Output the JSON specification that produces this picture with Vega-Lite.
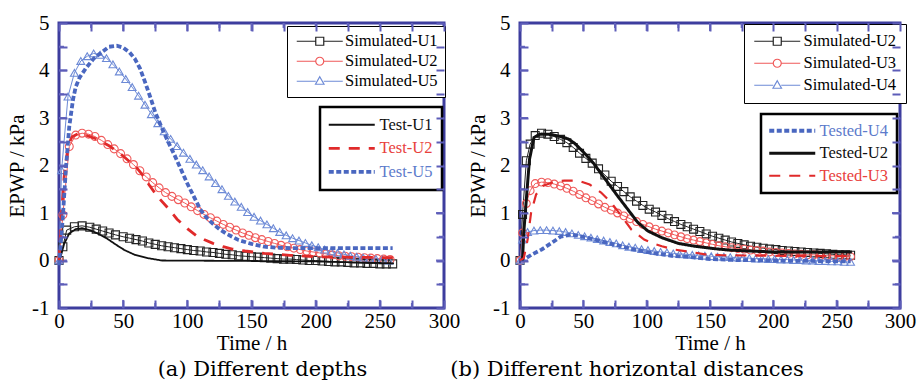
{
"$schema":"https://vega.github.io/schema/vega-lite/v6.json",
"padding":{"left":5,"top":10,"right":5,"bottom":2},
"background":"white",
"bounds":"flush",
"spacing":76,
"config":{
"font":"Liberation Serif",
"view":{"stroke":"#3d3d9e","strokeWidth":3},
"axis":{"domain":false,"grid":false,"ticks":true,"labelFont":"Liberation Serif","labelFontSize":21,"labelColor":"black","titleFont":"Liberation Serif","titleFontSize":21,"titleFontWeight":"normal","titleColor":"black","tickColor":"#5d5db8","tickWidth":2,"tickOpacity":1,"labelFlush":false,"labelOverlap":false},
"legend":{"labelFont":"Liberation Serif","labelFontSize":16.5,"labelLimit":300}
},
"datasets":{
"xt":[{"t":25},{"t":50},{"t":75},{"t":100},{"t":125},{"t":150},{"t":175},{"t":200},{"t":225},{"t":250},{"t":275}],
"yt":[{"v":-0.5},{"v":0},{"v":0.5},{"v":1},{"v":1.5},{"v":2},{"v":2.5},{"v":3},{"v":3.5},{"v":4},{"v":4.5}],
"simA":[
{"s":"Simulated-U1","t":0,"v":0},{"s":"Simulated-U1","t":3,"v":0.29},{"s":"Simulated-U1","t":6,"v":0.64},{"s":"Simulated-U1","t":12,"v":0.71},{"s":"Simulated-U1","t":18,"v":0.73},{"s":"Simulated-U1","t":24,"v":0.7},{"s":"Simulated-U1","t":29,"v":0.66},{"s":"Simulated-U1","t":34,"v":0.62},{"s":"Simulated-U1","t":39,"v":0.58},{"s":"Simulated-U1","t":44,"v":0.54},{"s":"Simulated-U1","t":50,"v":0.5},{"s":"Simulated-U1","t":55,"v":0.47},{"s":"Simulated-U1","t":60,"v":0.44},{"s":"Simulated-U1","t":65,"v":0.41},{"s":"Simulated-U1","t":70,"v":0.37},{"s":"Simulated-U1","t":75,"v":0.34},{"s":"Simulated-U1","t":80,"v":0.31},{"s":"Simulated-U1","t":85,"v":0.29},{"s":"Simulated-U1","t":90,"v":0.27},{"s":"Simulated-U1","t":95,"v":0.25},{"s":"Simulated-U1","t":100,"v":0.23},{"s":"Simulated-U1","t":105,"v":0.21},{"s":"Simulated-U1","t":110,"v":0.2},{"s":"Simulated-U1","t":115,"v":0.18},{"s":"Simulated-U1","t":120,"v":0.17},{"s":"Simulated-U1","t":125,"v":0.15},{"s":"Simulated-U1","t":130,"v":0.13},{"s":"Simulated-U1","t":135,"v":0.12},{"s":"Simulated-U1","t":140,"v":0.1},{"s":"Simulated-U1","t":145,"v":0.09},{"s":"Simulated-U1","t":150,"v":0.08},{"s":"Simulated-U1","t":155,"v":0.07},{"s":"Simulated-U1","t":160,"v":0.06},{"s":"Simulated-U1","t":165,"v":0.05},{"s":"Simulated-U1","t":170,"v":0.04},{"s":"Simulated-U1","t":175,"v":0.03},{"s":"Simulated-U1","t":180,"v":0.03},{"s":"Simulated-U1","t":185,"v":0.02},{"s":"Simulated-U1","t":190,"v":0.01},{"s":"Simulated-U1","t":195,"v":0},{"s":"Simulated-U1","t":200,"v":0},{"s":"Simulated-U1","t":205,"v":-0.01},{"s":"Simulated-U1","t":210,"v":-0.02},{"s":"Simulated-U1","t":215,"v":-0.03},{"s":"Simulated-U1","t":220,"v":-0.03},{"s":"Simulated-U1","t":225,"v":-0.04},{"s":"Simulated-U1","t":230,"v":-0.05},{"s":"Simulated-U1","t":235,"v":-0.05},{"s":"Simulated-U1","t":240,"v":-0.06},{"s":"Simulated-U1","t":245,"v":-0.06},{"s":"Simulated-U1","t":250,"v":-0.07},{"s":"Simulated-U1","t":255,"v":-0.07},{"s":"Simulated-U1","t":260,"v":-0.07},
{"s":"Simulated-U2","t":0,"v":0},{"s":"Simulated-U2","t":3,"v":0.96},{"s":"Simulated-U2","t":8,"v":2.4},{"s":"Simulated-U2","t":13,"v":2.64},{"s":"Simulated-U2","t":18,"v":2.68},{"s":"Simulated-U2","t":23,"v":2.66},{"s":"Simulated-U2","t":28,"v":2.61},{"s":"Simulated-U2","t":33,"v":2.53},{"s":"Simulated-U2","t":38,"v":2.44},{"s":"Simulated-U2","t":43,"v":2.35},{"s":"Simulated-U2","t":48,"v":2.25},{"s":"Simulated-U2","t":53,"v":2.14},{"s":"Simulated-U2","t":58,"v":2.02},{"s":"Simulated-U2","t":63,"v":1.89},{"s":"Simulated-U2","t":68,"v":1.76},{"s":"Simulated-U2","t":73,"v":1.64},{"s":"Simulated-U2","t":78,"v":1.53},{"s":"Simulated-U2","t":83,"v":1.43},{"s":"Simulated-U2","t":88,"v":1.35},{"s":"Simulated-U2","t":93,"v":1.28},{"s":"Simulated-U2","t":98,"v":1.21},{"s":"Simulated-U2","t":103,"v":1.13},{"s":"Simulated-U2","t":108,"v":1.05},{"s":"Simulated-U2","t":113,"v":0.97},{"s":"Simulated-U2","t":118,"v":0.9},{"s":"Simulated-U2","t":123,"v":0.83},{"s":"Simulated-U2","t":128,"v":0.76},{"s":"Simulated-U2","t":133,"v":0.7},{"s":"Simulated-U2","t":138,"v":0.64},{"s":"Simulated-U2","t":143,"v":0.58},{"s":"Simulated-U2","t":148,"v":0.53},{"s":"Simulated-U2","t":153,"v":0.48},{"s":"Simulated-U2","t":158,"v":0.44},{"s":"Simulated-U2","t":163,"v":0.4},{"s":"Simulated-U2","t":168,"v":0.36},{"s":"Simulated-U2","t":173,"v":0.32},{"s":"Simulated-U2","t":178,"v":0.29},{"s":"Simulated-U2","t":183,"v":0.26},{"s":"Simulated-U2","t":188,"v":0.23},{"s":"Simulated-U2","t":193,"v":0.2},{"s":"Simulated-U2","t":198,"v":0.18},{"s":"Simulated-U2","t":203,"v":0.16},{"s":"Simulated-U2","t":208,"v":0.14},{"s":"Simulated-U2","t":213,"v":0.12},{"s":"Simulated-U2","t":218,"v":0.1},{"s":"Simulated-U2","t":223,"v":0.09},{"s":"Simulated-U2","t":228,"v":0.08},{"s":"Simulated-U2","t":233,"v":0.07},{"s":"Simulated-U2","t":238,"v":0.06},{"s":"Simulated-U2","t":243,"v":0.05},{"s":"Simulated-U2","t":248,"v":0.04},{"s":"Simulated-U2","t":253,"v":0.03},{"s":"Simulated-U2","t":258,"v":0.02},
{"s":"Simulated-U5","t":0,"v":0},{"s":"Simulated-U5","t":2,"v":1.9},{"s":"Simulated-U5","t":7,"v":3.45},{"s":"Simulated-U5","t":12,"v":3.95},{"s":"Simulated-U5","t":17,"v":4.2},{"s":"Simulated-U5","t":22,"v":4.3},{"s":"Simulated-U5","t":27,"v":4.36},{"s":"Simulated-U5","t":32,"v":4.33},{"s":"Simulated-U5","t":37,"v":4.26},{"s":"Simulated-U5","t":42,"v":4.13},{"s":"Simulated-U5","t":47,"v":3.98},{"s":"Simulated-U5","t":52,"v":3.82},{"s":"Simulated-U5","t":57,"v":3.65},{"s":"Simulated-U5","t":62,"v":3.47},{"s":"Simulated-U5","t":67,"v":3.28},{"s":"Simulated-U5","t":72,"v":3.08},{"s":"Simulated-U5","t":77,"v":2.89},{"s":"Simulated-U5","t":82,"v":2.72},{"s":"Simulated-U5","t":87,"v":2.56},{"s":"Simulated-U5","t":92,"v":2.41},{"s":"Simulated-U5","t":97,"v":2.27},{"s":"Simulated-U5","t":102,"v":2.14},{"s":"Simulated-U5","t":107,"v":2.02},{"s":"Simulated-U5","t":112,"v":1.9},{"s":"Simulated-U5","t":117,"v":1.77},{"s":"Simulated-U5","t":122,"v":1.63},{"s":"Simulated-U5","t":127,"v":1.5},{"s":"Simulated-U5","t":132,"v":1.36},{"s":"Simulated-U5","t":137,"v":1.24},{"s":"Simulated-U5","t":142,"v":1.13},{"s":"Simulated-U5","t":147,"v":1.02},{"s":"Simulated-U5","t":152,"v":0.92},{"s":"Simulated-U5","t":157,"v":0.84},{"s":"Simulated-U5","t":162,"v":0.76},{"s":"Simulated-U5","t":167,"v":0.68},{"s":"Simulated-U5","t":172,"v":0.6},{"s":"Simulated-U5","t":177,"v":0.53},{"s":"Simulated-U5","t":182,"v":0.47},{"s":"Simulated-U5","t":187,"v":0.42},{"s":"Simulated-U5","t":192,"v":0.37},{"s":"Simulated-U5","t":197,"v":0.32},{"s":"Simulated-U5","t":202,"v":0.28},{"s":"Simulated-U5","t":207,"v":0.23},{"s":"Simulated-U5","t":212,"v":0.19},{"s":"Simulated-U5","t":217,"v":0.16},{"s":"Simulated-U5","t":222,"v":0.13},{"s":"Simulated-U5","t":227,"v":0.1},{"s":"Simulated-U5","t":232,"v":0.08},{"s":"Simulated-U5","t":237,"v":0.06},{"s":"Simulated-U5","t":242,"v":0.04},{"s":"Simulated-U5","t":247,"v":0.03},{"s":"Simulated-U5","t":252,"v":0.02},{"s":"Simulated-U5","t":257,"v":0}
],
"testA":[
{"s":"Test-U1","t":0,"v":0},{"s":"Test-U1","t":2,"v":0.15},{"s":"Test-U1","t":4,"v":0.35},{"s":"Test-U1","t":8,"v":0.57},{"s":"Test-U1","t":13,"v":0.66},{"s":"Test-U1","t":18,"v":0.68},{"s":"Test-U1","t":24,"v":0.64},{"s":"Test-U1","t":30,"v":0.57},{"s":"Test-U1","t":37,"v":0.47},{"s":"Test-U1","t":44,"v":0.34},{"s":"Test-U1","t":51,"v":0.22},{"s":"Test-U1","t":59,"v":0.12},{"s":"Test-U1","t":69,"v":0.05},{"s":"Test-U1","t":80,"v":0},{"s":"Test-U1","t":150,"v":-0.01},{"s":"Test-U1","t":200,"v":-0.02},{"s":"Test-U1","t":261,"v":-0.06},
{"s":"Test-U2","t":0,"v":0},{"s":"Test-U2","t":2,"v":1},{"s":"Test-U2","t":4,"v":1.76},{"s":"Test-U2","t":7,"v":2.4},{"s":"Test-U2","t":10,"v":2.6},{"s":"Test-U2","t":15,"v":2.67},{"s":"Test-U2","t":20,"v":2.65},{"s":"Test-U2","t":30,"v":2.55},{"s":"Test-U2","t":40,"v":2.4},{"s":"Test-U2","t":50,"v":2.2},{"s":"Test-U2","t":55,"v":2.08},{"s":"Test-U2","t":61,"v":1.94},{"s":"Test-U2","t":66,"v":1.77},{"s":"Test-U2","t":70,"v":1.6},{"s":"Test-U2","t":77,"v":1.34},{"s":"Test-U2","t":85,"v":1.1},{"s":"Test-U2","t":92,"v":0.87},{"s":"Test-U2","t":100,"v":0.67},{"s":"Test-U2","t":107,"v":0.52},{"s":"Test-U2","t":113,"v":0.44},{"s":"Test-U2","t":120,"v":0.36},{"s":"Test-U2","t":128,"v":0.29},{"s":"Test-U2","t":135,"v":0.24},{"s":"Test-U2","t":145,"v":0.2},{"s":"Test-U2","t":160,"v":0.15},{"s":"Test-U2","t":180,"v":0.11},{"s":"Test-U2","t":200,"v":0.08},{"s":"Test-U2","t":220,"v":0.07},{"s":"Test-U2","t":261,"v":0.06},
{"s":"Test-U5","t":0,"v":-0.1},{"s":"Test-U5","t":3,"v":0.92},{"s":"Test-U5","t":5.5,"v":1.98},{"s":"Test-U5","t":8,"v":2.82},{"s":"Test-U5","t":11,"v":3.4},{"s":"Test-U5","t":13,"v":3.65},{"s":"Test-U5","t":16,"v":3.85},{"s":"Test-U5","t":21,"v":4.05},{"s":"Test-U5","t":27,"v":4.25},{"s":"Test-U5","t":34,"v":4.4},{"s":"Test-U5","t":39,"v":4.5},{"s":"Test-U5","t":45,"v":4.52},{"s":"Test-U5","t":50,"v":4.48},{"s":"Test-U5","t":55,"v":4.38},{"s":"Test-U5","t":59,"v":4.25},{"s":"Test-U5","t":63,"v":4.05},{"s":"Test-U5","t":67,"v":3.76},{"s":"Test-U5","t":71,"v":3.45},{"s":"Test-U5","t":75,"v":3.12},{"s":"Test-U5","t":80,"v":2.8},{"s":"Test-U5","t":85,"v":2.5},{"s":"Test-U5","t":90,"v":2.22},{"s":"Test-U5","t":95,"v":1.92},{"s":"Test-U5","t":100,"v":1.62},{"s":"Test-U5","t":105,"v":1.35},{"s":"Test-U5","t":110,"v":1.08},{"s":"Test-U5","t":115,"v":0.9},{"s":"Test-U5","t":120,"v":0.77},{"s":"Test-U5","t":125,"v":0.66},{"s":"Test-U5","t":130,"v":0.57},{"s":"Test-U5","t":135,"v":0.5},{"s":"Test-U5","t":140,"v":0.43},{"s":"Test-U5","t":150,"v":0.35},{"s":"Test-U5","t":160,"v":0.29},{"s":"Test-U5","t":170,"v":0.27},{"s":"Test-U5","t":180,"v":0.26},{"s":"Test-U5","t":260,"v":0.26}
],
"simB":[
{"s":"Simulated-U2","t":0,"v":0},{"s":"Simulated-U2","t":2,"v":0.97},{"s":"Simulated-U2","t":5,"v":2.1},{"s":"Simulated-U2","t":8,"v":2.45},{"s":"Simulated-U2","t":12,"v":2.63},{"s":"Simulated-U2","t":17,"v":2.68},{"s":"Simulated-U2","t":22,"v":2.66},{"s":"Simulated-U2","t":27,"v":2.61},{"s":"Simulated-U2","t":32,"v":2.55},{"s":"Simulated-U2","t":37,"v":2.48},{"s":"Simulated-U2","t":42,"v":2.38},{"s":"Simulated-U2","t":47,"v":2.26},{"s":"Simulated-U2","t":52,"v":2.15},{"s":"Simulated-U2","t":57,"v":2.05},{"s":"Simulated-U2","t":62,"v":1.93},{"s":"Simulated-U2","t":67,"v":1.8},{"s":"Simulated-U2","t":72,"v":1.67},{"s":"Simulated-U2","t":77,"v":1.56},{"s":"Simulated-U2","t":82,"v":1.45},{"s":"Simulated-U2","t":87,"v":1.34},{"s":"Simulated-U2","t":92,"v":1.25},{"s":"Simulated-U2","t":97,"v":1.16},{"s":"Simulated-U2","t":102,"v":1.08},{"s":"Simulated-U2","t":107,"v":1.02},{"s":"Simulated-U2","t":112,"v":0.95},{"s":"Simulated-U2","t":117,"v":0.88},{"s":"Simulated-U2","t":122,"v":0.82},{"s":"Simulated-U2","t":127,"v":0.76},{"s":"Simulated-U2","t":132,"v":0.71},{"s":"Simulated-U2","t":137,"v":0.66},{"s":"Simulated-U2","t":142,"v":0.61},{"s":"Simulated-U2","t":147,"v":0.56},{"s":"Simulated-U2","t":152,"v":0.51},{"s":"Simulated-U2","t":157,"v":0.47},{"s":"Simulated-U2","t":162,"v":0.43},{"s":"Simulated-U2","t":167,"v":0.39},{"s":"Simulated-U2","t":172,"v":0.36},{"s":"Simulated-U2","t":177,"v":0.33},{"s":"Simulated-U2","t":182,"v":0.3},{"s":"Simulated-U2","t":187,"v":0.28},{"s":"Simulated-U2","t":192,"v":0.26},{"s":"Simulated-U2","t":197,"v":0.24},{"s":"Simulated-U2","t":202,"v":0.23},{"s":"Simulated-U2","t":207,"v":0.21},{"s":"Simulated-U2","t":212,"v":0.2},{"s":"Simulated-U2","t":217,"v":0.19},{"s":"Simulated-U2","t":222,"v":0.18},{"s":"Simulated-U2","t":227,"v":0.17},{"s":"Simulated-U2","t":232,"v":0.16},{"s":"Simulated-U2","t":237,"v":0.15},{"s":"Simulated-U2","t":242,"v":0.14},{"s":"Simulated-U2","t":247,"v":0.13},{"s":"Simulated-U2","t":252,"v":0.12},{"s":"Simulated-U2","t":257,"v":0.12},{"s":"Simulated-U2","t":261,"v":0.11},
{"s":"Simulated-U3","t":0,"v":0},{"s":"Simulated-U3","t":2,"v":0.58},{"s":"Simulated-U3","t":5,"v":1.2},{"s":"Simulated-U3","t":8,"v":1.47},{"s":"Simulated-U3","t":12,"v":1.62},{"s":"Simulated-U3","t":17,"v":1.65},{"s":"Simulated-U3","t":22,"v":1.64},{"s":"Simulated-U3","t":27,"v":1.61},{"s":"Simulated-U3","t":32,"v":1.57},{"s":"Simulated-U3","t":37,"v":1.52},{"s":"Simulated-U3","t":42,"v":1.46},{"s":"Simulated-U3","t":47,"v":1.39},{"s":"Simulated-U3","t":52,"v":1.32},{"s":"Simulated-U3","t":57,"v":1.26},{"s":"Simulated-U3","t":62,"v":1.19},{"s":"Simulated-U3","t":67,"v":1.12},{"s":"Simulated-U3","t":72,"v":1.06},{"s":"Simulated-U3","t":77,"v":1},{"s":"Simulated-U3","t":82,"v":0.94},{"s":"Simulated-U3","t":87,"v":0.88},{"s":"Simulated-U3","t":92,"v":0.82},{"s":"Simulated-U3","t":97,"v":0.76},{"s":"Simulated-U3","t":102,"v":0.71},{"s":"Simulated-U3","t":107,"v":0.66},{"s":"Simulated-U3","t":112,"v":0.62},{"s":"Simulated-U3","t":117,"v":0.58},{"s":"Simulated-U3","t":122,"v":0.54},{"s":"Simulated-U3","t":127,"v":0.5},{"s":"Simulated-U3","t":132,"v":0.46},{"s":"Simulated-U3","t":137,"v":0.43},{"s":"Simulated-U3","t":142,"v":0.4},{"s":"Simulated-U3","t":147,"v":0.37},{"s":"Simulated-U3","t":152,"v":0.34},{"s":"Simulated-U3","t":157,"v":0.31},{"s":"Simulated-U3","t":162,"v":0.29},{"s":"Simulated-U3","t":167,"v":0.27},{"s":"Simulated-U3","t":172,"v":0.25},{"s":"Simulated-U3","t":177,"v":0.24},{"s":"Simulated-U3","t":182,"v":0.22},{"s":"Simulated-U3","t":187,"v":0.21},{"s":"Simulated-U3","t":192,"v":0.2},{"s":"Simulated-U3","t":197,"v":0.18},{"s":"Simulated-U3","t":202,"v":0.17},{"s":"Simulated-U3","t":207,"v":0.16},{"s":"Simulated-U3","t":212,"v":0.15},{"s":"Simulated-U3","t":217,"v":0.14},{"s":"Simulated-U3","t":222,"v":0.13},{"s":"Simulated-U3","t":227,"v":0.12},{"s":"Simulated-U3","t":232,"v":0.12},{"s":"Simulated-U3","t":237,"v":0.11},{"s":"Simulated-U3","t":242,"v":0.1},{"s":"Simulated-U3","t":247,"v":0.1},{"s":"Simulated-U3","t":252,"v":0.09},{"s":"Simulated-U3","t":257,"v":0.09},{"s":"Simulated-U3","t":261,"v":0.08},
{"s":"Simulated-U4","t":0,"v":0},{"s":"Simulated-U4","t":2,"v":0.44},{"s":"Simulated-U4","t":6,"v":0.6},{"s":"Simulated-U4","t":11,"v":0.63},{"s":"Simulated-U4","t":16,"v":0.64},{"s":"Simulated-U4","t":21,"v":0.64},{"s":"Simulated-U4","t":26,"v":0.63},{"s":"Simulated-U4","t":31,"v":0.62},{"s":"Simulated-U4","t":36,"v":0.6},{"s":"Simulated-U4","t":41,"v":0.57},{"s":"Simulated-U4","t":46,"v":0.54},{"s":"Simulated-U4","t":51,"v":0.51},{"s":"Simulated-U4","t":56,"v":0.48},{"s":"Simulated-U4","t":61,"v":0.45},{"s":"Simulated-U4","t":66,"v":0.42},{"s":"Simulated-U4","t":71,"v":0.39},{"s":"Simulated-U4","t":76,"v":0.36},{"s":"Simulated-U4","t":81,"v":0.32},{"s":"Simulated-U4","t":86,"v":0.29},{"s":"Simulated-U4","t":91,"v":0.27},{"s":"Simulated-U4","t":96,"v":0.24},{"s":"Simulated-U4","t":101,"v":0.22},{"s":"Simulated-U4","t":106,"v":0.2},{"s":"Simulated-U4","t":111,"v":0.18},{"s":"Simulated-U4","t":116,"v":0.17},{"s":"Simulated-U4","t":121,"v":0.15},{"s":"Simulated-U4","t":126,"v":0.14},{"s":"Simulated-U4","t":131,"v":0.13},{"s":"Simulated-U4","t":136,"v":0.12},{"s":"Simulated-U4","t":141,"v":0.11},{"s":"Simulated-U4","t":146,"v":0.1},{"s":"Simulated-U4","t":151,"v":0.09},{"s":"Simulated-U4","t":156,"v":0.08},{"s":"Simulated-U4","t":161,"v":0.08},{"s":"Simulated-U4","t":166,"v":0.07},{"s":"Simulated-U4","t":171,"v":0.06},{"s":"Simulated-U4","t":176,"v":0.06},{"s":"Simulated-U4","t":181,"v":0.05},{"s":"Simulated-U4","t":186,"v":0.04},{"s":"Simulated-U4","t":191,"v":0.04},{"s":"Simulated-U4","t":196,"v":0.03},{"s":"Simulated-U4","t":201,"v":0.03},{"s":"Simulated-U4","t":206,"v":0.02},{"s":"Simulated-U4","t":211,"v":0.02},{"s":"Simulated-U4","t":216,"v":0.01},{"s":"Simulated-U4","t":221,"v":0.01},{"s":"Simulated-U4","t":226,"v":0},{"s":"Simulated-U4","t":231,"v":0},{"s":"Simulated-U4","t":236,"v":-0.01},{"s":"Simulated-U4","t":241,"v":-0.01},{"s":"Simulated-U4","t":246,"v":-0.02},{"s":"Simulated-U4","t":251,"v":-0.02},{"s":"Simulated-U4","t":256,"v":-0.03},{"s":"Simulated-U4","t":261,"v":-0.03}
],
"testB":[
{"s":"Tested-U4","t":0,"v":0},{"s":"Tested-U4","t":3,"v":0.02},{"s":"Tested-U4","t":9,"v":0.12},{"s":"Tested-U4","t":17,"v":0.23},{"s":"Tested-U4","t":25,"v":0.37},{"s":"Tested-U4","t":32,"v":0.5},{"s":"Tested-U4","t":40,"v":0.55},{"s":"Tested-U4","t":48,"v":0.51},{"s":"Tested-U4","t":59,"v":0.44},{"s":"Tested-U4","t":69,"v":0.37},{"s":"Tested-U4","t":80,"v":0.3},{"s":"Tested-U4","t":90,"v":0.23},{"s":"Tested-U4","t":104,"v":0.16},{"s":"Tested-U4","t":120,"v":0.1},{"s":"Tested-U4","t":135,"v":0.07},{"s":"Tested-U4","t":150,"v":0.03},{"s":"Tested-U4","t":170,"v":0.01},{"s":"Tested-U4","t":200,"v":0},{"s":"Tested-U4","t":230,"v":-0.01},{"s":"Tested-U4","t":261,"v":-0.02},
{"s":"Tested-U2","t":0,"v":0},{"s":"Tested-U2","t":2,"v":0.02},{"s":"Tested-U2","t":3,"v":0.6},{"s":"Tested-U2","t":5,"v":1.29},{"s":"Tested-U2","t":7.5,"v":2.13},{"s":"Tested-U2","t":11,"v":2.59},{"s":"Tested-U2","t":16,"v":2.66},{"s":"Tested-U2","t":22,"v":2.66},{"s":"Tested-U2","t":27,"v":2.64},{"s":"Tested-U2","t":33,"v":2.6},{"s":"Tested-U2","t":38,"v":2.56},{"s":"Tested-U2","t":43,"v":2.47},{"s":"Tested-U2","t":48,"v":2.34},{"s":"Tested-U2","t":53,"v":2.2},{"s":"Tested-U2","t":58,"v":2.05},{"s":"Tested-U2","t":64,"v":1.83},{"s":"Tested-U2","t":69,"v":1.65},{"s":"Tested-U2","t":77,"v":1.36},{"s":"Tested-U2","t":85,"v":1.08},{"s":"Tested-U2","t":93,"v":0.8},{"s":"Tested-U2","t":101,"v":0.62},{"s":"Tested-U2","t":112,"v":0.48},{"s":"Tested-U2","t":125,"v":0.36},{"s":"Tested-U2","t":138,"v":0.3},{"s":"Tested-U2","t":153,"v":0.25},{"s":"Tested-U2","t":165,"v":0.22},{"s":"Tested-U2","t":180,"v":0.2},{"s":"Tested-U2","t":200,"v":0.18},{"s":"Tested-U2","t":262,"v":0.18},
{"s":"Tested-U3","t":0,"v":0},{"s":"Tested-U3","t":3,"v":0.05},{"s":"Tested-U3","t":6,"v":0.44},{"s":"Tested-U3","t":8.7,"v":1},{"s":"Tested-U3","t":12.7,"v":1.39},{"s":"Tested-U3","t":18,"v":1.57},{"s":"Tested-U3","t":27,"v":1.66},{"s":"Tested-U3","t":35,"v":1.68},{"s":"Tested-U3","t":46,"v":1.68},{"s":"Tested-U3","t":55,"v":1.6},{"s":"Tested-U3","t":64,"v":1.43},{"s":"Tested-U3","t":72,"v":1.22},{"s":"Tested-U3","t":80,"v":0.94},{"s":"Tested-U3","t":88,"v":0.65},{"s":"Tested-U3","t":98,"v":0.44},{"s":"Tested-U3","t":106,"v":0.35},{"s":"Tested-U3","t":112,"v":0.3},{"s":"Tested-U3","t":122,"v":0.23},{"s":"Tested-U3","t":135,"v":0.18},{"s":"Tested-U3","t":146,"v":0.13},{"s":"Tested-U3","t":160,"v":0.11},{"s":"Tested-U3","t":200,"v":0.1},{"s":"Tested-U3","t":261,"v":0.09}
]
},
"hconcat":[
{
"width":385,"height":285,
"title":{"text":"(a) Different depths","orient":"bottom","anchor":"middle","font":"DejaVu Serif","fontSize":21,"fontWeight":"normal","color":"black","dx":11,"offset":6},
"resolve":{"scale":{"color":"independent","shape":"independent","strokeDash":"independent","strokeWidth":"independent"},"axis":{"x":"independent","y":"independent"}},
"layer":[
{"data":{"name":"xt"},"transform":[{"filter":"datum.t % 50 === 0"}],"mark":{"type":"rule","color":"#6a6ac0","strokeWidth":2},"encoding":{"x":{"field":"t","type":"quantitative","scale":{"domain":[0,300],"nice":false},"axis":null},"y":{"datum":-1,"type":"quantitative","scale":{"domain":[-1,5],"nice":false},"axis":null},"y2":{"datum":-0.83}}},
{"data":{"name":"xt"},"transform":[{"filter":"datum.t % 50 !== 0"}],"mark":{"type":"rule","color":"#6a6ac0","strokeWidth":2},"encoding":{"x":{"field":"t","type":"quantitative","scale":{"domain":[0,300],"nice":false},"axis":null},"y":{"datum":-1,"type":"quantitative","scale":{"domain":[-1,5],"nice":false},"axis":null},"y2":{"datum":-0.895}}},
{"data":{"name":"xt"},"transform":[{"filter":"datum.t % 50 === 0"}],"mark":{"type":"rule","color":"#6a6ac0","strokeWidth":2},"encoding":{"x":{"field":"t","type":"quantitative","scale":{"domain":[0,300],"nice":false},"axis":null},"y":{"datum":5,"type":"quantitative","scale":{"domain":[-1,5],"nice":false},"axis":null},"y2":{"datum":4.83}}},
{"data":{"name":"xt"},"transform":[{"filter":"datum.t % 50 !== 0"}],"mark":{"type":"rule","color":"#6a6ac0","strokeWidth":2},"encoding":{"x":{"field":"t","type":"quantitative","scale":{"domain":[0,300],"nice":false},"axis":null},"y":{"datum":5,"type":"quantitative","scale":{"domain":[-1,5],"nice":false},"axis":null},"y2":{"datum":4.895}}},
{"data":{"name":"yt"},"transform":[{"filter":"datum.v % 1 === 0"}],"mark":{"type":"rule","color":"#6a6ac0","strokeWidth":2},"encoding":{"y":{"field":"v","type":"quantitative","scale":{"domain":[-1,5],"nice":false},"axis":null},"x":{"datum":0,"type":"quantitative","scale":{"domain":[0,300],"nice":false},"axis":null},"x2":{"datum":6.2}}},
{"data":{"name":"yt"},"transform":[{"filter":"datum.v % 1 !== 0"}],"mark":{"type":"rule","color":"#6a6ac0","strokeWidth":2},"encoding":{"y":{"field":"v","type":"quantitative","scale":{"domain":[-1,5],"nice":false},"axis":null},"x":{"datum":0,"type":"quantitative","scale":{"domain":[0,300],"nice":false},"axis":null},"x2":{"datum":3.9}}},
{"data":{"name":"yt"},"transform":[{"filter":"datum.v % 1 === 0"}],"mark":{"type":"rule","color":"#6a6ac0","strokeWidth":2},"encoding":{"y":{"field":"v","type":"quantitative","scale":{"domain":[-1,5],"nice":false},"axis":null},"x":{"datum":300,"type":"quantitative","scale":{"domain":[0,300],"nice":false},"axis":null},"x2":{"datum":293.8}}},
{"data":{"name":"yt"},"transform":[{"filter":"datum.v % 1 !== 0"}],"mark":{"type":"rule","color":"#6a6ac0","strokeWidth":2},"encoding":{"y":{"field":"v","type":"quantitative","scale":{"domain":[-1,5],"nice":false},"axis":null},"x":{"datum":300,"type":"quantitative","scale":{"domain":[0,300],"nice":false},"axis":null},"x2":{"datum":296.1}}},
{"data":{"name":"simA"},"mark":{"type":"line","strokeWidth":1},
"encoding":{
"x":{"field":"t","type":"quantitative","scale":{"domain":[0,300],"nice":false},"axis":{"orient":"bottom","values":[0,25,50,75,100,125,150,175,200,225,250,275,300],"labelExpr":"datum.value % 50 === 0 ? '' + datum.value : ''","ticks":true,"tickSize":-8,"labelPadding":10,"title":"Time / h","titlePadding":1,"labelFont":"Liberation Serif","labelFontSize":21,"labelColor":"black","titleFont":"Liberation Serif","titleFontSize":21,"titleFontWeight":"normal","titleColor":"black","tickColor":"#5d5db8","tickWidth":2,"tickOpacity":1,"domain":false,"grid":false,"labelFlush":false,"labelOverlap":false,"zindex":1}},
"y":{"field":"v","type":"quantitative","scale":{"domain":[-1,5],"nice":false},"axis":{"orient":"left","values":[-1,-0.5,0,0.5,1,1.5,2,2.5,3,3.5,4,4.5,5],"labelExpr":"datum.value % 1 === 0 ? '' + datum.value : ''","ticks":true,"tickSize":-8,"labelPadding":18,"title":"EPWP / kPa","titlePadding":4,"labelFont":"Liberation Serif","labelFontSize":21,"labelColor":"black","titleFont":"Liberation Serif","titleFontSize":21,"titleFontWeight":"normal","titleColor":"black","tickColor":"#5d5db8","tickWidth":2,"tickOpacity":1,"domain":false,"grid":false,"labelFlush":false,"labelOverlap":false,"zindex":1}},
"color":{"field":"s","type":"nominal","scale":{"domain":["Simulated-U1","Simulated-U2","Simulated-U5"],"range":["#222222","#f05a5a","#6d8ad6"]},"legend":null}
}},
{"data":{"name":"simA"},"mark":{"type":"point","filled":false,"strokeWidth":1.1,"opacity":1},
"encoding":{
"x":{"field":"t","type":"quantitative","scale":{"domain":[0,300],"nice":false},"axis":null},
"y":{"field":"v","type":"quantitative","scale":{"domain":[-1,5],"nice":false},"axis":null},
"color":{"field":"s","type":"nominal","scale":{"domain":["Simulated-U1","Simulated-U2","Simulated-U5"],"range":["#222222","#f05a5a","#6d8ad6"]},"legend":null},
"shape":{"field":"s","type":"nominal","scale":{"domain":["Simulated-U1","Simulated-U2","Simulated-U5"],"range":["square","circle","triangle-up"]},"legend":null},
"size":{"field":"s","type":"nominal","scale":{"domain":["Simulated-U1","Simulated-U2","Simulated-U5"],"range":[64,60,80]},"legend":null}
}},
{"data":{"name":"testA"},"mark":{"type":"line"},
"encoding":{
"x":{"field":"t","type":"quantitative","scale":{"domain":[0,300],"nice":false},"axis":null},
"y":{"field":"v","type":"quantitative","scale":{"domain":[-1,5],"nice":false},"axis":null},
"color":{"field":"s","type":"nominal","scale":{"domain":["Test-U1","Test-U2","Test-U5"],"range":["#111111","#e02a2a","#4a67c0"]},
"legend":{"title":null,"orient":"none","legendX":261,"legendY":84,"padding":9.5,"rowPadding":6.6,"strokeColor":"black","fillColor":"white","symbolType":"M-4.6,0H4.6","symbolSize":100,"symbolOffset":14,"labelOffset":19.5,"labelFont":"Liberation Serif","labelFontSize":16.5,
"encode":{"labels":{"update":{"fill":{"signal":"datum.value === 'Test-U1' ? '#111111' : datum.value === 'Test-U2' ? '#e8413c' : '#5d7bcb'"}}},"legend":{"update":{"strokeWidth":{"value":2.5}}}}}},
"strokeDash":{"field":"s","type":"nominal","scale":{"domain":["Test-U1","Test-U2","Test-U5"],"range":[[1,0],[11,9],[5,2.5]]},
"legend":{"title":null,"orient":"none","legendX":261,"legendY":84,"padding":9.5,"rowPadding":6.6,"strokeColor":"black","fillColor":"white","symbolType":"M-4.6,0H4.6","symbolSize":100,"symbolOffset":14,"labelOffset":19.5,"labelFont":"Liberation Serif","labelFontSize":16.5}},
"strokeWidth":{"field":"s","type":"nominal","scale":{"domain":["Test-U1","Test-U2","Test-U5"],"range":[1.8,3.8]},
"legend":{"title":null,"orient":"none","legendX":261,"legendY":84,"padding":9.5,"rowPadding":6.6,"strokeColor":"black","fillColor":"white","symbolType":"M-4.6,0H4.6","symbolSize":100,"symbolOffset":14,"labelOffset":19.5,"labelFont":"Liberation Serif","labelFontSize":16.5}}
}},
{"data":{"name":"simA"},"mark":{"type":"point","filled":false,"opacity":0},
"encoding":{
"x":{"field":"t","type":"quantitative","scale":{"domain":[0,300],"nice":false},"axis":{"orient":"top","values":[0,25,50,75,100,125,150,175,200,225,250,275,300],"labels":false,"title":null,"ticks":true,"tickSize":-8,"tickColor":"#5d5db8","tickWidth":2,"tickOpacity":1,"domain":false,"grid":false,"zindex":1}},
"y":{"field":"v","type":"quantitative","scale":{"domain":[-1,5],"nice":false},"axis":{"orient":"right","values":[-1,-0.5,0,0.5,1,1.5,2,2.5,3,3.5,4,4.5,5],"labels":false,"title":null,"ticks":true,"tickSize":-8,"tickColor":"#5d5db8","tickWidth":2,"tickOpacity":1,"domain":false,"grid":false,"zindex":1}},
"color":{"field":"s","type":"nominal","scale":{"domain":["Simulated-U1","Simulated-U2","Simulated-U5"],"range":["#222222","#f05a5a","#6d8ad6"]},
"legend":{"title":null,"orient":"none","legendX":228,"legendY":3,"padding":7,"rowPadding":3,"strokeColor":"black","fillColor":"white","symbolSize":100,"symbolStrokeWidth":1.2,"symbolOpacity":1,"symbolOffset":17.5,"labelOffset":17,"labelFont":"Liberation Serif","labelFontSize":16.5,
"encode":{"labels":{"update":{"fill":{"signal":"datum.value === 'Simulated-U1' ? '#111111' : datum.value === 'Simulated-U2' ? '#e8413c' : '#5d7bcb'"}}},"legend":{"update":{"strokeWidth":{"value":2.5}}}}}},
"shape":{"field":"s","type":"nominal","scale":{"domain":["Simulated-U1","Simulated-U2","Simulated-U5"],"range":["M-4.6,0H-0.8M0.8,0H4.6M-0.8,-0.8H0.8V0.8H-0.8Z","M-4.6,0H-0.8M0.8,0H4.6M0.8,0A0.8,0.8 0 1,1 -0.8,0A0.8,0.8 0 1,1 0.8,0Z","M-4.6,0H-0.8M0.8,0H4.6M0,-0.9L0.85,0.6H-0.85Z"]},
"legend":{"title":null,"orient":"none","legendX":228,"legendY":3,"padding":7,"rowPadding":3,"strokeColor":"black","fillColor":"white","symbolSize":100,"symbolStrokeWidth":1.2,"symbolOpacity":1,"symbolOffset":17.5,"labelOffset":17,"labelFont":"Liberation Serif","labelFontSize":16.5}}
}}
]
},
{
"width":380,"height":285,
"title":{"text":"(b) Different horizontal distances","orient":"bottom","anchor":"middle","font":"DejaVu Serif","fontSize":21,"fontWeight":"normal","color":"black","dx":-83,"offset":6},
"resolve":{"scale":{"color":"independent","shape":"independent","strokeDash":"independent","strokeWidth":"independent"},"axis":{"x":"independent","y":"independent"}},
"layer":[
{"data":{"name":"xt"},"transform":[{"filter":"datum.t % 50 === 0"}],"mark":{"type":"rule","color":"#6a6ac0","strokeWidth":2},"encoding":{"x":{"field":"t","type":"quantitative","scale":{"domain":[0,300],"nice":false},"axis":null},"y":{"datum":-1,"type":"quantitative","scale":{"domain":[-1,5],"nice":false},"axis":null},"y2":{"datum":-0.83}}},
{"data":{"name":"xt"},"transform":[{"filter":"datum.t % 50 !== 0"}],"mark":{"type":"rule","color":"#6a6ac0","strokeWidth":2},"encoding":{"x":{"field":"t","type":"quantitative","scale":{"domain":[0,300],"nice":false},"axis":null},"y":{"datum":-1,"type":"quantitative","scale":{"domain":[-1,5],"nice":false},"axis":null},"y2":{"datum":-0.895}}},
{"data":{"name":"xt"},"transform":[{"filter":"datum.t % 50 === 0"}],"mark":{"type":"rule","color":"#6a6ac0","strokeWidth":2},"encoding":{"x":{"field":"t","type":"quantitative","scale":{"domain":[0,300],"nice":false},"axis":null},"y":{"datum":5,"type":"quantitative","scale":{"domain":[-1,5],"nice":false},"axis":null},"y2":{"datum":4.83}}},
{"data":{"name":"xt"},"transform":[{"filter":"datum.t % 50 !== 0"}],"mark":{"type":"rule","color":"#6a6ac0","strokeWidth":2},"encoding":{"x":{"field":"t","type":"quantitative","scale":{"domain":[0,300],"nice":false},"axis":null},"y":{"datum":5,"type":"quantitative","scale":{"domain":[-1,5],"nice":false},"axis":null},"y2":{"datum":4.895}}},
{"data":{"name":"yt"},"transform":[{"filter":"datum.v % 1 === 0"}],"mark":{"type":"rule","color":"#6a6ac0","strokeWidth":2},"encoding":{"y":{"field":"v","type":"quantitative","scale":{"domain":[-1,5],"nice":false},"axis":null},"x":{"datum":0,"type":"quantitative","scale":{"domain":[0,300],"nice":false},"axis":null},"x2":{"datum":6.3}}},
{"data":{"name":"yt"},"transform":[{"filter":"datum.v % 1 !== 0"}],"mark":{"type":"rule","color":"#6a6ac0","strokeWidth":2},"encoding":{"y":{"field":"v","type":"quantitative","scale":{"domain":[-1,5],"nice":false},"axis":null},"x":{"datum":0,"type":"quantitative","scale":{"domain":[0,300],"nice":false},"axis":null},"x2":{"datum":3.95}}},
{"data":{"name":"yt"},"transform":[{"filter":"datum.v % 1 === 0"}],"mark":{"type":"rule","color":"#6a6ac0","strokeWidth":2},"encoding":{"y":{"field":"v","type":"quantitative","scale":{"domain":[-1,5],"nice":false},"axis":null},"x":{"datum":300,"type":"quantitative","scale":{"domain":[0,300],"nice":false},"axis":null},"x2":{"datum":293.7}}},
{"data":{"name":"yt"},"transform":[{"filter":"datum.v % 1 !== 0"}],"mark":{"type":"rule","color":"#6a6ac0","strokeWidth":2},"encoding":{"y":{"field":"v","type":"quantitative","scale":{"domain":[-1,5],"nice":false},"axis":null},"x":{"datum":300,"type":"quantitative","scale":{"domain":[0,300],"nice":false},"axis":null},"x2":{"datum":296.05}}},
{"data":{"name":"simB"},"mark":{"type":"line","strokeWidth":1},
"encoding":{
"x":{"field":"t","type":"quantitative","scale":{"domain":[0,300],"nice":false},"axis":{"orient":"bottom","values":[0,25,50,75,100,125,150,175,200,225,250,275,300],"labelExpr":"datum.value % 50 === 0 ? '' + datum.value : ''","ticks":true,"tickSize":-8,"labelPadding":10,"title":"Time / h","titlePadding":1,"labelFont":"Liberation Serif","labelFontSize":21,"labelColor":"black","titleFont":"Liberation Serif","titleFontSize":21,"titleFontWeight":"normal","titleColor":"black","tickColor":"#5d5db8","tickWidth":2,"tickOpacity":1,"domain":false,"grid":false,"labelFlush":false,"labelOverlap":false,"zindex":1}},
"y":{"field":"v","type":"quantitative","scale":{"domain":[-1,5],"nice":false},"axis":{"orient":"left","values":[-1,-0.5,0,0.5,1,1.5,2,2.5,3,3.5,4,4.5,5],"labelExpr":"datum.value % 1 === 0 ? '' + datum.value : ''","ticks":true,"tickSize":-8,"labelPadding":18,"title":"EPWP / kPa","titlePadding":4,"labelFont":"Liberation Serif","labelFontSize":21,"labelColor":"black","titleFont":"Liberation Serif","titleFontSize":21,"titleFontWeight":"normal","titleColor":"black","tickColor":"#5d5db8","tickWidth":2,"tickOpacity":1,"domain":false,"grid":false,"labelFlush":false,"labelOverlap":false,"zindex":1}},
"color":{"field":"s","type":"nominal","scale":{"domain":["Simulated-U2","Simulated-U3","Simulated-U4"],"range":["#222222","#f05a5a","#6d8ad6"]},"legend":null}
}},
{"data":{"name":"simB"},"mark":{"type":"point","filled":false,"strokeWidth":1.1,"opacity":1},
"encoding":{
"x":{"field":"t","type":"quantitative","scale":{"domain":[0,300],"nice":false},"axis":null},
"y":{"field":"v","type":"quantitative","scale":{"domain":[-1,5],"nice":false},"axis":null},
"color":{"field":"s","type":"nominal","scale":{"domain":["Simulated-U2","Simulated-U3","Simulated-U4"],"range":["#222222","#f05a5a","#6d8ad6"]},"legend":null},
"shape":{"field":"s","type":"nominal","scale":{"domain":["Simulated-U2","Simulated-U3","Simulated-U4"],"range":["square","circle","triangle-up"]},"legend":null},
"size":{"field":"s","type":"nominal","scale":{"domain":["Simulated-U2","Simulated-U3","Simulated-U4"],"range":[64,60,80]},"legend":null}
}},
{"data":{"name":"testB"},"mark":{"type":"line"},
"encoding":{
"x":{"field":"t","type":"quantitative","scale":{"domain":[0,300],"nice":false},"axis":null},
"y":{"field":"v","type":"quantitative","scale":{"domain":[-1,5],"nice":false},"axis":null},
"color":{"field":"s","type":"nominal","scale":{"domain":["Tested-U4","Tested-U2","Tested-U3"],"range":["#4a67c0","#111111","#e02a2a"]},
"legend":{"title":null,"orient":"none","legendX":241,"legendY":91,"padding":8.5,"rowPadding":5.5,"strokeColor":"black","fillColor":"white","symbolType":"M-4.6,0H4.6","symbolSize":100,"symbolOffset":14.5,"labelOffset":19,"labelFont":"Liberation Serif","labelFontSize":16.5,
"encode":{"labels":{"update":{"fill":{"signal":"datum.value === 'Tested-U2' ? '#111111' : datum.value === 'Tested-U3' ? '#e8413c' : '#5d7bcb'"}}},"legend":{"update":{"strokeWidth":{"value":2.5}}}}}},
"strokeDash":{"field":"s","type":"nominal","scale":{"domain":["Tested-U4","Tested-U2","Tested-U3"],"range":[[5,2.5],[1,0],[11,9]]},
"legend":{"title":null,"orient":"none","legendX":241,"legendY":91,"padding":8.5,"rowPadding":5.5,"strokeColor":"black","fillColor":"white","symbolType":"M-4.6,0H4.6","symbolSize":100,"symbolOffset":14.5,"labelOffset":19,"labelFont":"Liberation Serif","labelFontSize":16.5}},
"strokeWidth":{"field":"s","type":"nominal","scale":{"domain":["Tested-U4","Tested-U2","Tested-U3"],"range":[3.8,2.2]},
"legend":{"title":null,"orient":"none","legendX":241,"legendY":91,"padding":8.5,"rowPadding":5.5,"strokeColor":"black","fillColor":"white","symbolType":"M-4.6,0H4.6","symbolSize":100,"symbolOffset":14.5,"labelOffset":19,"labelFont":"Liberation Serif","labelFontSize":16.5}}
}},
{"data":{"name":"simB"},"mark":{"type":"point","filled":false,"opacity":0},
"encoding":{
"x":{"field":"t","type":"quantitative","scale":{"domain":[0,300],"nice":false},"axis":{"orient":"top","values":[0,25,50,75,100,125,150,175,200,225,250,275,300],"labels":false,"title":null,"ticks":true,"tickSize":-8,"tickColor":"#5d5db8","tickWidth":2,"tickOpacity":1,"domain":false,"grid":false,"zindex":1}},
"y":{"field":"v","type":"quantitative","scale":{"domain":[-1,5],"nice":false},"axis":{"orient":"right","values":[-1,-0.5,0,0.5,1,1.5,2,2.5,3,3.5,4,4.5,5],"labels":false,"title":null,"ticks":true,"tickSize":-8,"tickColor":"#5d5db8","tickWidth":2,"tickOpacity":1,"domain":false,"grid":false,"zindex":1}},
"color":{"field":"s","type":"nominal","scale":{"domain":["Simulated-U2","Simulated-U3","Simulated-U4"],"range":["#222222","#f05a5a","#6d8ad6"]},
"legend":{"title":null,"orient":"none","legendX":224,"legendY":1,"padding":9,"rowPadding":5,"strokeColor":"black","fillColor":"white","symbolSize":100,"symbolStrokeWidth":1.2,"symbolOpacity":1,"symbolOffset":16,"labelOffset":18,"labelFont":"Liberation Serif","labelFontSize":16.5,
"encode":{"labels":{"update":{"fill":{"signal":"datum.value === 'Simulated-U2' ? '#111111' : datum.value === 'Simulated-U3' ? '#e8413c' : '#5d7bcb'"}}},"legend":{"update":{"strokeWidth":{"value":2.5}}}}}},
"shape":{"field":"s","type":"nominal","scale":{"domain":["Simulated-U2","Simulated-U3","Simulated-U4"],"range":["M-4.6,0H-0.8M0.8,0H4.6M-0.8,-0.8H0.8V0.8H-0.8Z","M-4.6,0H-0.8M0.8,0H4.6M0.8,0A0.8,0.8 0 1,1 -0.8,0A0.8,0.8 0 1,1 0.8,0Z","M-4.6,0H-0.8M0.8,0H4.6M0,-0.9L0.85,0.6H-0.85Z"]},
"legend":{"title":null,"orient":"none","legendX":224,"legendY":1,"padding":9,"rowPadding":5,"strokeColor":"black","fillColor":"white","symbolSize":100,"symbolStrokeWidth":1.2,"symbolOpacity":1,"symbolOffset":16,"labelOffset":18,"labelFont":"Liberation Serif","labelFontSize":16.5}}
}}
]
}
]
}
